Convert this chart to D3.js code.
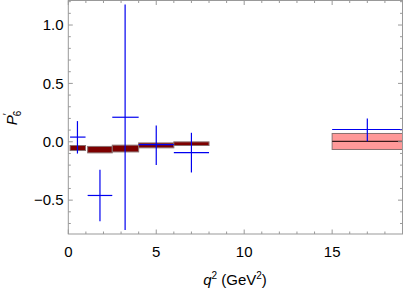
<!DOCTYPE html>
<html>
<head>
<meta charset="utf-8">
<script src="https://cdn.jsdelivr.net/npm/d3@7"></script>
<style>
  body { margin: 0; background: #fff; }
  svg { display: block; font-family: "Liberation Sans", Arial, sans-serif; }
</style>
</head>
<body>
<svg id="chart" width="403" height="290"></svg>
<script>
// q^2 bins (GeV^2)
const binLo = [0.1, 1.1, 2.5, 4, 6, 15];
const binHi = [0.98, 2.5, 4, 6, 8, 19];

// measurement (blue crosses)
const dataX = [0.52, 1.8, 3.23, 5.0, 7.0, 17.0];
const dataY = [0.04, -0.46, 0.21, -0.025, -0.093, 0.105];
const errUp = [0.137, 0.22, 0.965, 0.165, 0.17, 0.095];
const errDn = [0.141, 0.22, 0.965, 0.175, 0.17, 0.10];

// theory prediction boxes
const thLo = [-0.075, -0.095, -0.087, -0.052, -0.032, -0.066];
const thHi = [-0.032, -0.040, -0.029, -0.010, -0.001, 0.071];
const thMid = [-0.054, -0.068, -0.058, -0.031, -0.017, 0.003];

const xTicks = [0, 5, 10, 15];
const yTicks = [-0.5, 0, 0.5, 1.0];

const svg = d3.select("#chart");
const plotLeft = 68.3, plotRight = 402.5, plotTop = 0.5, plotBottom = 234;

const x = d3.scaleLinear().domain([0, 19]).range([plotLeft, plotRight]);
const y = d3.scaleLinear().domain([-0.79, 1.21]).range([plotBottom, plotTop]);

const bins = binLo.map((lo, i) => ({
    lo: lo, hi: binHi[i],
    x: dataX[i], y: dataY[i], up: errUp[i], dn: errDn[i],
    tlo: thLo[i], thi: thHi[i], tmid: thMid[i]
}));

// theory boxes
const boxes = svg.append("g");
boxes.selectAll("rect")
    .data(bins)
    .join("rect")
    .attr("x", d => x(d.lo))
    .attr("y", d => y(d.thi))
    .attr("width", d => x(d.hi) - x(d.lo))
    .attr("height", d => y(d.tlo) - y(d.thi))
    .style("fill", d => (y(d.tlo) - y(d.thi)) < 10 ? "#7d0000" : "#ff9999")
    .style("stroke", "#8a7070")
    .style("stroke-width", 1);

boxes.selectAll("line")
    .data(bins.filter(d => (y(d.tlo) - y(d.thi)) >= 10))
    .join("line")
    .attr("x1", d => x(d.lo))
    .attr("x2", d => x(d.hi))
    .attr("y1", d => y(d.tmid))
    .attr("y2", d => y(d.tmid))
    .style("stroke", "#3a1a1a")
    .style("stroke-width", 1.2);

// data crosses
const cross = svg.append("g")
    .style("stroke", "#0000f0")
    .style("stroke-width", 1.2);

cross.selectAll("line.h")
    .data(bins)
    .join("line")
    .attr("class", "h")
    .attr("x1", d => x(d.lo))
    .attr("x2", d => x(d.hi))
    .attr("y1", d => y(d.y))
    .attr("y2", d => y(d.y));

cross.selectAll("line.v")
    .data(bins)
    .join("line")
    .attr("class", "v")
    .attr("x1", d => x(d.x))
    .attr("x2", d => x(d.x))
    .attr("y1", d => y(d.y + d.up))
    .attr("y2", d => y(d.y - d.dn));

// frame
const frameColor = "#999";
svg.append("rect")
    .attr("x", plotLeft)
    .attr("y", plotTop)
    .attr("width", plotRight - plotLeft)
    .attr("height", plotBottom - plotTop)
    .style("fill", "none")
    .style("stroke", frameColor)
    .style("stroke-width", 1);

// ticks on all four sides, pointing inward
const xMinor = d3.range(0, 19.01, 1).filter(v => !xTicks.includes(v));
const yMinor = d3.range(-7, 13).map(v => v / 10).filter(v => !yTicks.some(t => Math.abs(t - v) < 1e-9));
const majLen = 4.5, minLen = 2.5;
const tk = svg.append("g").style("stroke", frameColor).style("stroke-width", 1);

function xTickLines(vals, len) {
    tk.append("g").selectAll("line").data(vals).join("line")
        .attr("x1", d => x(d)).attr("x2", d => x(d))
        .attr("y1", plotBottom).attr("y2", plotBottom - len);
    tk.append("g").selectAll("line").data(vals).join("line")
        .attr("x1", d => x(d)).attr("x2", d => x(d))
        .attr("y1", plotTop).attr("y2", plotTop + len);
}
function yTickLines(vals, len) {
    tk.append("g").selectAll("line").data(vals).join("line")
        .attr("y1", d => y(d)).attr("y2", d => y(d))
        .attr("x1", plotLeft).attr("x2", plotLeft + len);
    tk.append("g").selectAll("line").data(vals).join("line")
        .attr("y1", d => y(d)).attr("y2", d => y(d))
        .attr("x1", plotRight).attr("x2", plotRight - len);
}
xTickLines(xTicks, majLen);
xTickLines(xMinor, minLen);
yTickLines(yTicks, majLen);
yTickLines(yMinor, minLen);

// tick labels
svg.append("g")
    .style("font-size", "15px")
    .selectAll("text")
    .data(xTicks)
    .join("text")
    .attr("x", d => x(d))
    .attr("y", 257)
    .attr("text-anchor", "middle")
    .text(d => d);

const fmt = d3.format(".1f");
svg.append("g")
    .style("font-size", "15px")
    .selectAll("text")
    .data(yTicks)
    .join("text")
    .attr("x", 63.5)
    .attr("y", d => y(d) + 5.3)
    .attr("text-anchor", "end")
    .text(d => fmt(d));

// axis titles
const xl = svg.append("text")
    .attr("x", 235)
    .attr("y", 285)
    .attr("text-anchor", "middle")
    .style("font-size", "15px");
xl.append("tspan").style("font-style", "italic").text("q");
xl.append("tspan").attr("dy", -6).style("font-size", "10px").text("2");
xl.append("tspan").attr("dy", 6).text(" (GeV");
xl.append("tspan").attr("dy", -6).style("font-size", "10px").text("2");
xl.append("tspan").attr("dy", 6).text(")");

const yl = svg.append("text")
    .attr("transform", "translate(17,118) rotate(-90)")
    .attr("text-anchor", "middle")
    .style("font-size", "15px");
yl.append("tspan").style("font-style", "italic").text("P");
yl.append("tspan").attr("dy", -6).attr("dx", 0).style("font-size", "11px").text("\u2032");
yl.append("tspan").attr("dy", 10).attr("dx", -3).style("font-size", "10px").text("6");
</script>
</body>
</html>
